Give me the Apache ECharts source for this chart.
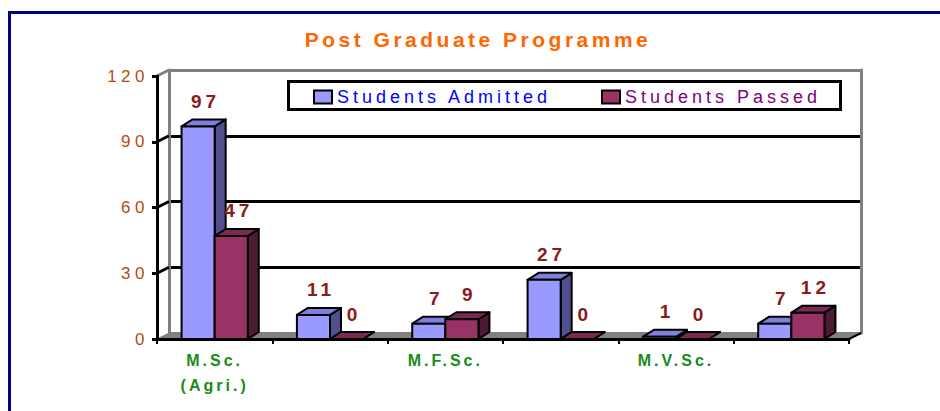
<!DOCTYPE html>
<html>
<head>
<meta charset="utf-8">
<script src="https://cdn.jsdelivr.net/npm/echarts@6/dist/echarts.min.js"></script>
<style>
html,body{margin:0;padding:0;background:#ffffff;}
#chart{width:940px;height:411px;}
#chart text{letter-spacing:4px;}
#chart text[fill="#ff6600"]{letter-spacing:3.5px;}
#chart text[fill="#b84a14"]{letter-spacing:4.5px;}
#chart text[fill="#8b1a1a"]{letter-spacing:4px;}
#chart text[fill="#188c18"]{letter-spacing:3px;}
#chart text[fill="#0000ff"],#chart text[fill="#800080"]{letter-spacing:4px;}
</style>
</head>
<body>
<div id="chart"></div>
<script>
// ---- data ----
const titleText = 'Post Graduate Programme';
const categories = ['M.Sc.\n(Agri.)', '', 'M.F.Sc.', '', 'M.V.Sc.', ''];
const seriesNames = ['Students Admitted', 'Students Passed'];
const admitted = [97, 11, 7, 27, 1, 7];
const passed = [47, 0, 9, 0, 0, 12];
const yTicks = [0, 30, 60, 90, 120];

// ---- style constants ----
const FONT = '"Liberation Sans", Arial, Helvetica, sans-serif';
const BAR_DEPTH = [11, -7];
const WALL_DEPTH = [12, -6];
const BAR_FRAC = 0.287;
const LABEL_LIFT = 25;
const BAR_COLORS = [
  {front: '#9999ff', top: '#8080e0', side: '#505090'},
  {front: '#993366', top: '#7a2952', side: '#4d1a33'}
];
const LABEL_COLOR = '#8b1a1a';

function renderWalls(params, api) {
  const cs = params.coordSys;
  const x0 = cs.x, x1 = cs.x + cs.width;
  const dx = WALL_DEPTH[0], dy = WALL_DEPTH[1];
  const yb = api.coord([0, yTicks[0]])[1];
  const children = [];
  children.push({
    type: 'polygon',
    shape: {points: [[x0, yb], [x0 + dx, yb + dy], [x1 + dx, yb + dy], [x1, yb]]},
    style: {fill: '#808080', stroke: '#808080', lineWidth: 1}
  });
  children.push({
    type: 'line',
    shape: {x1: x1, y1: yb, x2: x1 + dx, y2: yb + dy},
    style: {stroke: '#000', lineWidth: 2}
  });
  const maxV = yTicks[yTicks.length - 1];
  yTicks.forEach(function (v) {
    if (v === yTicks[0]) return;
    const y = api.coord([0, v])[1];
    children.push({
      type: 'line',
      shape: {x1: x0, y1: y, x2: x0 + dx, y2: y + dy},
      style: {stroke: v === maxV ? '#808080' : '#000', lineWidth: 3}
    });
  });
  return {type: 'group', children: children};
}

function makeBar(slot) {
  const c = BAR_COLORS[slot];
  return function (params, api) {
    const i = api.value(0), v = api.value(1);
    const band = api.size([1, 0])[0];
    const base = api.coord([i, 0]);
    const top = api.coord([i, v]);
    const w = band * BAR_FRAC;
    const cx = base[0];
    const xa = slot === 0 ? cx - w : cx;
    const xb = xa + w;
    const yt = top[1], yb = base[1];
    const dx = BAR_DEPTH[0], dy = BAR_DEPTH[1];
    const stroke = {stroke: '#000', lineWidth: 2, lineJoin: 'round'};
    return {
      type: 'group',
      children: [
        {type: 'polygon', shape: {points: [[xb, yt], [xb + dx, yt + dy], [xb + dx, yb + dy], [xb, yb]]},
         style: Object.assign({fill: c.side}, stroke)},
        {type: 'polygon', shape: {points: [[xa, yt], [xa + dx, yt + dy], [xb + dx, yt + dy], [xb, yt]]},
         style: Object.assign({fill: c.top}, stroke)},
        {type: 'polygon', shape: {points: [[xa, yt], [xb, yt], [xb, yb], [xa, yb]]},
         style: Object.assign({fill: c.front}, stroke)},
        {type: 'text', z2: 10,
         style: {text: String(v), x: (xa + xb) / 2 + dx / 2 + 2, y: yt - LABEL_LIFT,
                 fill: LABEL_COLOR, font: 'bold 19px ' + FONT,
                 align: 'center', verticalAlign: 'middle', textAlign: 'center', textVerticalAlign: 'middle'}}
      ]
    };
  };
}

const chart = echarts.init(document.getElementById('chart'), null, {renderer: 'svg'});
chart.setOption({
  animation: false,
  backgroundColor: '#ffffff',
  textStyle: {fontFamily: FONT},
  graphic: [
    {type: 'rect', z: 0, silent: true,
     shape: {x: 9.5, y: 12.5, width: 2000, height: 2000},
     style: {fill: null, stroke: '#000080', lineWidth: 3}},
    {type: 'text', z: 5, silent: true,
     style: {text: titleText, x: 478, y: 39, fill: '#ff6600', font: 'bold 21px ' + FONT,
             align: 'center', verticalAlign: 'middle', textAlign: 'center', textVerticalAlign: 'middle'}},
    {type: 'rect', z: 3, silent: true,
     shape: {x: 288.5, y: 81.5, width: 552, height: 28},
     style: {fill: '#ffffff', stroke: '#000', lineWidth: 3}}
  ],
  legend: [
    {data: [{name: seriesNames[0], textStyle: {color: '#0000ff'}}],
     left: 313, top: 88, padding: 0, itemWidth: 18, itemHeight: 13, icon: 'rect', selectedMode: false, z: 4,
     itemStyle: {borderColor: '#000', borderWidth: 2},
     textStyle: {fontSize: 18, fontFamily: FONT}},
    {data: [{name: seriesNames[1], textStyle: {color: '#800080'}}],
     left: 601, top: 88, padding: 0, itemWidth: 18, itemHeight: 13, icon: 'rect', selectedMode: false, z: 4,
     itemStyle: {borderColor: '#000', borderWidth: 2},
     textStyle: {fontSize: 18, fontFamily: FONT}}
  ],
  grid: [
    {left: 157, right: 91, top: 76, bottom: 72},
    {left: 169, right: 79, top: 70, bottom: 78}
  ],
  xAxis: [
    {gridIndex: 0, type: 'category', data: categories, boundaryGap: true, z: 3,
     axisLine: {show: true, lineStyle: {color: '#000', width: 3}},
     axisTick: {show: true, length: 5, lineStyle: {color: '#000', width: 2}},
     axisLabel: {interval: 0, color: '#188c18', fontSize: 16, fontWeight: 'bold', lineHeight: 25, margin: 9, fontFamily: FONT},
     splitLine: {show: false}},
    {gridIndex: 1, type: 'category', data: categories, show: false}
  ],
  yAxis: [
    {gridIndex: 0, type: 'value', min: 0, max: 120, interval: 30, z: 3,
     axisLine: {show: true, lineStyle: {color: '#000', width: 3}},
     axisTick: {show: true, length: 5, lineStyle: {color: '#000', width: 3}},
     axisLabel: {color: '#b84a14', fontSize: 17, margin: 8, fontFamily: FONT},
     splitLine: {show: false}},
    {gridIndex: 1, type: 'value', min: 0, max: 120, interval: 30,
     axisLine: {show: true, lineStyle: {color: '#808080', width: 3}},
     axisTick: {show: false}, axisLabel: {show: false},
     splitLine: {show: true, lineStyle: {color: ['#808080', '#000', '#000', '#000', '#808080'], width: 3}}},
    {gridIndex: 1, type: 'value', min: 0, max: 120, interval: 30, position: 'right',
     axisLine: {show: true, lineStyle: {color: '#808080', width: 3}},
     axisTick: {show: false}, axisLabel: {show: false}, splitLine: {show: false}}
  ],
  series: [
    {type: 'custom', xAxisIndex: 0, yAxisIndex: 0, z: 1, silent: true,
     data: [[0, 0]], renderItem: renderWalls},
    {type: 'custom', name: seriesNames[0], xAxisIndex: 0, yAxisIndex: 0, z: 2,
     itemStyle: {color: BAR_COLORS[0].front}, encode: {x: 0, y: 1},
     data: admitted.map(function (v, i) { return [i, v]; }), renderItem: makeBar(0)},
    {type: 'custom', name: seriesNames[1], xAxisIndex: 0, yAxisIndex: 0, z: 2,
     itemStyle: {color: BAR_COLORS[1].front}, encode: {x: 0, y: 1},
     data: passed.map(function (v, i) { return [i, v]; }), renderItem: makeBar(1)}
  ]
});
</script>
</body>
</html>
